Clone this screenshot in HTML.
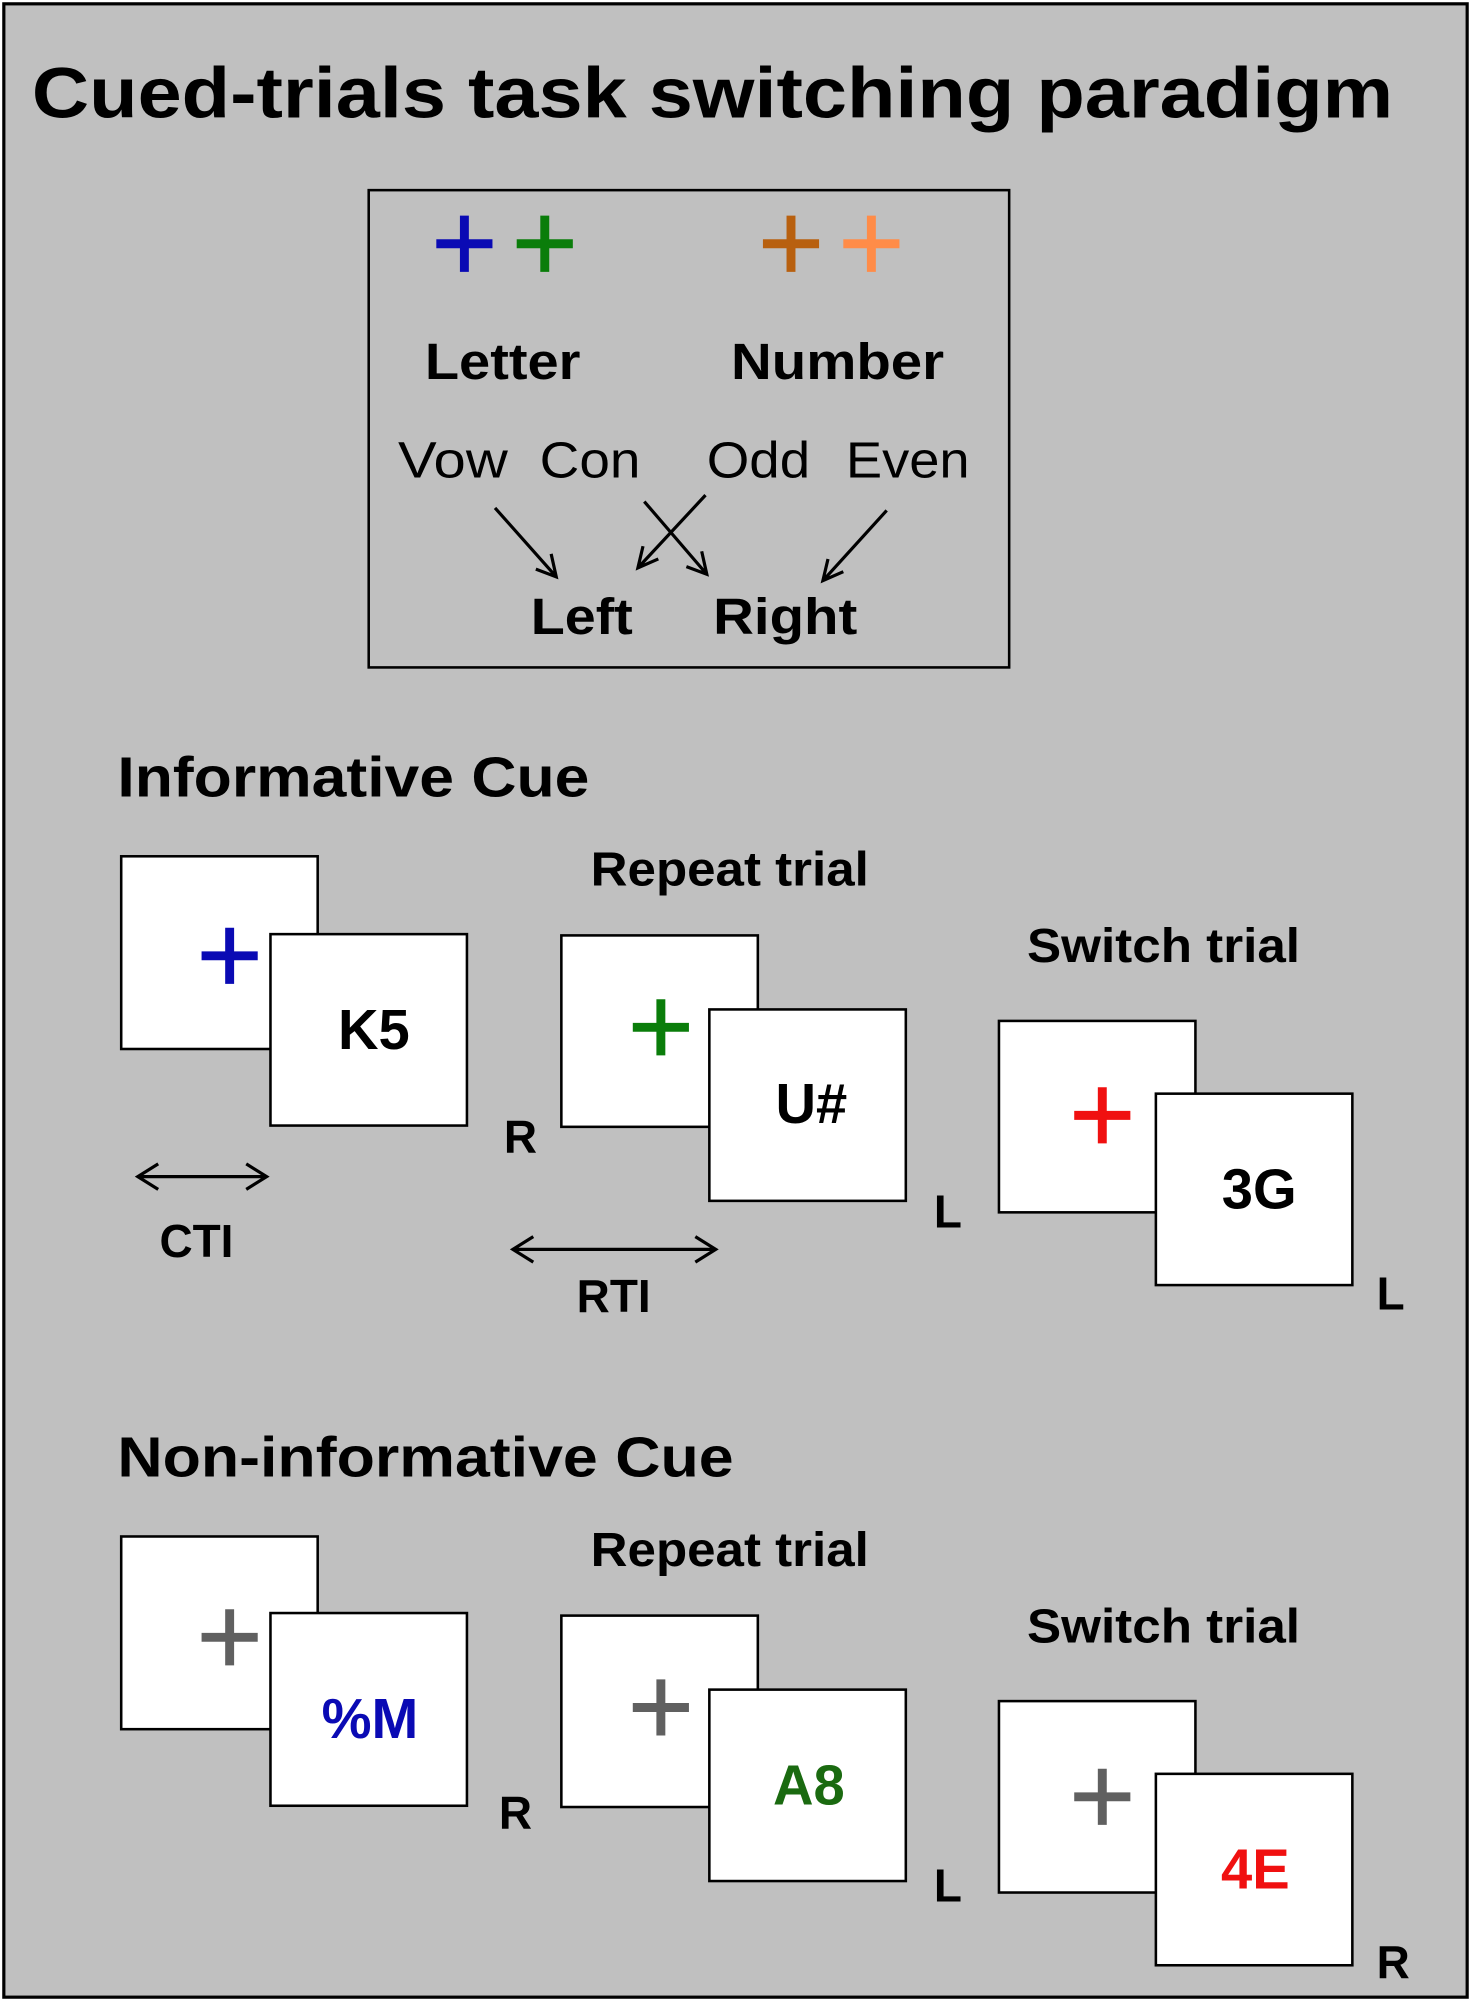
<!DOCTYPE html>
<html><head><meta charset="utf-8"><style>
html,body{margin:0;padding:0;background:#fff;}
svg{display:block;}
text{font-family:"Liberation Sans",Arial,sans-serif;}
.b{font-weight:bold;}
</style></head><body>
<svg width="1471" height="2001" viewBox="0 0 1153 1568" preserveAspectRatio="none" xmlns="http://www.w3.org/2000/svg">
<rect x="0" y="0" width="1153" height="1568" fill="#fff"/>
<rect x="3" y="3" width="1147" height="1562" fill="#c0c0c0" stroke="#000" stroke-width="2.5"/>
<text x="25" y="92" class="b" font-size="56" textLength="1067" lengthAdjust="spacingAndGlyphs">Cued-trials task switching paradigm</text>
<rect x="289" y="149" width="502" height="374" fill="none" stroke="#000" stroke-width="2"/>
<g stroke-width="7">
<path d="M342 191h44M364 169v44" stroke="#0a0ab4"/>
<path d="M405 191h44M427 169v44" stroke="#0a7d0a"/>
<path d="M598 191h44M620 169v44" stroke="#b8600f"/>
<path d="M661 191h44M683 169v44" stroke="#ff8c48"/>
</g>
<g class="b" font-size="40" lengthAdjust="spacingAndGlyphs">
<text x="333" y="297" textLength="122" lengthAdjust="spacingAndGlyphs">Letter</text>
<text x="573" y="297" textLength="167" lengthAdjust="spacingAndGlyphs">Number</text>
<text x="416" y="497" textLength="80" lengthAdjust="spacingAndGlyphs">Left</text>
<text x="559" y="497" textLength="113" lengthAdjust="spacingAndGlyphs">Right</text>
</g>
<g font-size="40">
<text x="312" y="374" textLength="86" lengthAdjust="spacingAndGlyphs">Vow</text>
<text x="423" y="374" textLength="79" lengthAdjust="spacingAndGlyphs">Con</text>
<text x="554" y="374" textLength="81" lengthAdjust="spacingAndGlyphs">Odd</text>
<text x="663" y="374" textLength="97" lengthAdjust="spacingAndGlyphs">Even</text>
</g>
<g stroke="#000" stroke-width="2.5" fill="none">
<path d="M388 398L436 452M420 446L436 452L432 434"/>
<path d="M505 393L554 450M538 444L554 450L550 432"/>
<path d="M553 388L500 445M504 428L500 445L516 438"/>
<path d="M695 400L645 455M649 438L645 455L661 448"/>
<path d="M108 922H209M124 912L108 922L124 932M193 912L209 922L193 932"/>
<path d="M402 979H561M418 969L402 979L418 989M545 969L561 979L545 989"/>
</g>
<g class="b" font-size="44">
<text x="92" y="624" textLength="370" lengthAdjust="spacingAndGlyphs">Informative Cue</text>
<text x="92" y="1157" textLength="483" lengthAdjust="spacingAndGlyphs">Non-informative Cue</text>
</g>
<g class="b" font-size="38">
<text x="463" y="694" textLength="218" lengthAdjust="spacingAndGlyphs">Repeat trial</text>
<text x="805" y="754" textLength="214" lengthAdjust="spacingAndGlyphs">Switch trial</text>
<text x="463" y="1227" textLength="218" lengthAdjust="spacingAndGlyphs">Repeat trial</text>
<text x="805" y="1287" textLength="214" lengthAdjust="spacingAndGlyphs">Switch trial</text>
</g>
<g class="b" font-size="36" text-anchor="middle">
<text x="408" y="903">R</text><text x="743" y="962">L</text><text x="1090" y="1026">L</text>
<text x="404" y="1433">R</text><text x="743" y="1490">L</text><text x="1092" y="1550">R</text>
<text x="154" y="985">CTI</text><text x="481" y="1028">RTI</text>
</g>
<g fill="#fff" stroke="#000" stroke-width="2">
<rect x="95" y="671" width="154" height="151"/><rect x="212" y="732" width="154" height="150"/>
<rect x="440" y="733" width="154" height="150"/><rect x="556" y="791" width="154" height="150"/>
<rect x="783" y="800" width="154" height="150"/><rect x="906" y="857" width="154" height="150"/>
<rect x="95" y="1204" width="154" height="151"/><rect x="212" y="1264" width="154" height="151"/>
<rect x="440" y="1266" width="154" height="150"/><rect x="556" y="1324" width="154" height="150"/>
<rect x="783" y="1333" width="154" height="150"/><rect x="906" y="1390" width="154" height="150"/>
</g>
<g stroke-width="7">
<path d="M158 749h44M180 727v44" stroke="#0a0ab4"/>
<path d="M496 805h44M518 783v44" stroke="#0a7d0a"/>
<path d="M842 874h44M864 852v44" stroke="#f01010"/>
<path d="M158 1283h44M180 1261v44" stroke="#606060"/>
<path d="M496 1338h44M518 1316v44" stroke="#606060"/>
<path d="M842 1408h44M864 1386v44" stroke="#606060"/>
</g>
<g class="b" font-size="44" text-anchor="middle">
<text x="293" y="822">K5</text><text x="636" y="880">U#</text><text x="987" y="947">3G</text>
<text x="290" y="1362" fill="#0a0ab4">%M</text><text x="634" y="1414" fill="#1a6a10">A8</text><text x="984" y="1480" fill="#f01010">4E</text>
</g>
</svg>
</body></html>
